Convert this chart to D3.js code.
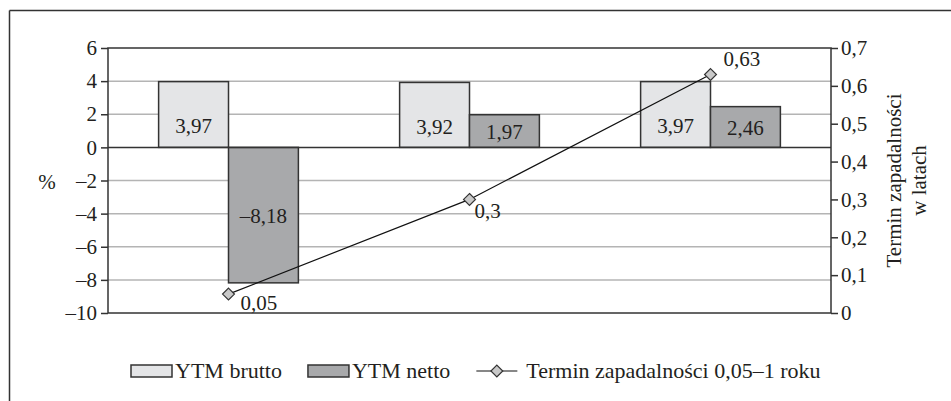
<!DOCTYPE html>
<html>
<head>
<meta charset="utf-8">
<script src="https://cdn.jsdelivr.net/npm/d3@7"></script>
<style>
  html, body { margin: 0; padding: 0; background: #fff; }
  svg, svg text { font-family: "Liberation Serif", "Times New Roman", Times, "DejaVu Serif", serif; }
</style>
</head>
<body>
<svg id="chart" width="951" height="401"></svg>
<script>
// Three bond groups (categories are not labelled on the axis)
const categories = ["a", "b", "c"];
const seriesNames = ["YTM brutto", "YTM netto"];
const ytmBrutto = [3.97, 3.92, 3.97];
const ytmNetto = [-8.18, 1.97, 2.46];
const maturity = [0.05, 0.3, 0.63];
const maturityName = "Termin zapadalności 0,05–1 roku";
const leftTicks = [-10, -8, -6, -4, -2, 0, 2, 4, 6];
const rightTicks = [0, 0.1, 0.2, 0.3, 0.4, 0.5, 0.6, 0.7];
const leftTitle = "%";
const rightTitle = ["Termin zapadalności", "w latach"];

const serif = "'Liberation Serif', 'Times New Roman', Times, 'DejaVu Serif', serif";
const pl = d3.formatLocale({ decimal: ",", thousands: " ", grouping: [3], currency: ["", " zł"], minus: "\u2013" });
const fmtVal = v => pl.format(",")(v);
const fs = 21;
const legendFs = 22;

const svg = d3.select("#chart").attr("font-family", serif);
const ink = "#231f20";
const plot = { left: 108, right: 831, top: 48, bottom: 313 };

// outer frame (top and left edges)
svg.append("line").attr("x1", 9.5).attr("x2", 951).attr("y1", 10.5).attr("y2", 10.5)
  .attr("stroke", "#333").attr("stroke-width", 1.5);
svg.append("line").attr("x1", 9.5).attr("x2", 9.5).attr("y1", 10.5).attr("y2", 401)
  .attr("stroke", "#333").attr("stroke-width", 1.5);

const x0 = d3.scaleBand().domain(categories).range([plot.left, plot.right]).padding(0);
const x1 = d3.scaleBand().domain(seriesNames)
  .range([x0.bandwidth() * 0.21, x0.bandwidth() * 0.79]).padding(0);
const yL = d3.scaleLinear().domain([-10, 6]).range([plot.bottom, plot.top]);
const yR = d3.scaleLinear().domain([0, 0.7]).range([plot.bottom, plot.top]);

// horizontal gridlines
svg.append("g").selectAll("line")
  .data(leftTicks.filter(t => t !== 0 && t !== -10 && t !== 6))
  .join("line")
  .attr("x1", plot.left).attr("x2", plot.right)
  .attr("y1", d => yL(d)).attr("y2", d => yL(d))
  .attr("stroke", "#b4b4b4").attr("stroke-width", 1.5);

// bars
const barData = [];
categories.forEach((c, i) => {
  barData.push({ cat: c, s: seriesNames[0], v: ytmBrutto[i] });
  barData.push({ cat: c, s: seriesNames[1], v: ytmNetto[i] });
});
const fills = { "YTM brutto": "#e4e5e7", "YTM netto": "#a8a9ab" };
svg.append("g").selectAll("rect").data(barData).join("rect")
  .attr("x", d => x0(d.cat) + x1(d.s))
  .attr("width", x1.bandwidth())
  .attr("y", d => yL(Math.max(0, d.v)))
  .attr("height", d => Math.abs(yL(d.v) - yL(0)))
  .attr("fill", d => fills[d.s])
  .attr("stroke", "#333").attr("stroke-width", 1.5);

// zero line and plot border
svg.append("line").attr("x1", plot.left).attr("x2", plot.right)
  .attr("y1", yL(0)).attr("y2", yL(0)).attr("stroke", "#333").attr("stroke-width", 1.5);
svg.append("rect").attr("x", plot.left).attr("y", plot.top)
  .attr("width", plot.right - plot.left).attr("height", plot.bottom - plot.top)
  .attr("fill", "none").attr("stroke", "#333").attr("stroke-width", 1.5);

// bar value labels
svg.append("g").selectAll("text").data(barData).join("text")
  .attr("x", d => x0(d.cat) + x1(d.s) + x1.bandwidth() / 2)
  .attr("y", d => yL(d.v / 2) + (d.s === "YTM brutto" ? 19 : 8))
  .attr("text-anchor", "middle")
  .attr("font-size", fs).attr("fill", ink)
  .text(d => fmtVal(d.v));

// left axis
const axL = svg.append("g").attr("transform", `translate(${plot.left},0)`)
  .call(d3.axisLeft(yL).tickValues(leftTicks).tickSize(7).tickPadding(4).tickFormat(pl.format("")));
axL.attr("font-family", serif);
axL.select(".domain").remove();
axL.selectAll(".tick line").attr("stroke", "#333").attr("stroke-width", 1.5);
axL.selectAll(".tick text").attr("font-size", fs).attr("fill", ink);

// right axis
const axR = svg.append("g").attr("transform", `translate(${plot.right},0)`)
  .call(d3.axisRight(yR).tickValues(rightTicks).tickSize(7).tickPadding(3).tickFormat(pl.format("")));
axR.attr("font-family", serif);
axR.select(".domain").remove();
axR.selectAll(".tick line").attr("stroke", "#333").attr("stroke-width", 1.5);
axR.selectAll(".tick text").attr("font-size", fs).attr("fill", ink);

// axis titles
svg.append("text").attr("x", 47).attr("y", 189).attr("text-anchor", "middle")
  .attr("font-size", fs).attr("fill", ink).text(leftTitle);
const yMid = (plot.top + plot.bottom) / 2;
rightTitle.forEach((t, i) => {
  svg.append("text")
    .attr("transform", `translate(${901 + i * 25},${yMid}) rotate(-90)`)
    .attr("text-anchor", "middle").attr("font-size", fs).attr("fill", ink).text(t);
});

// maturity line with diamond markers
const pts = categories.map((c, i) => ({ x: x0(c) + x0.bandwidth() / 2, y: yR(maturity[i]), v: maturity[i] }));
svg.append("path").datum(pts)
  .attr("d", d3.line().x(d => d.x).y(d => d.y))
  .attr("fill", "none").attr("stroke", "#111").attr("stroke-width", 1.2);
const diamond = d3.symbol().type(d3.symbolDiamond2).size(90);
svg.append("g").selectAll("path").data(pts).join("path")
  .attr("transform", d => `translate(${d.x},${d.y})`)
  .attr("d", diamond).attr("fill", "#c9c9c9").attr("stroke", "#333").attr("stroke-width", 1.2);

const ptOffsets = [[12, 16], [5, 19], [13, -9]];
svg.append("g").selectAll("text").data(pts).join("text")
  .attr("x", (d, i) => d.x + ptOffsets[i][0])
  .attr("y", (d, i) => d.y + ptOffsets[i][1])
  .attr("font-size", fs).attr("fill", ink)
  .text(d => fmtVal(d.v));

// legend
const lg = svg.append("g").attr("transform", "translate(131,371)");
let cx = 0;
seriesNames.forEach(name => {
  lg.append("rect").attr("x", cx).attr("y", -6).attr("width", 41).attr("height", 12)
    .attr("fill", fills[name]).attr("stroke", "#333").attr("stroke-width", 1.5);
  const t = lg.append("text").attr("x", cx + 44).attr("y", 7)
    .attr("font-size", legendFs).attr("fill", ink).text(name);
  cx += 44 + t.node().getComputedTextLength() + 26;
});
lg.append("line").attr("x1", cx).attr("x2", cx + 41).attr("y1", 0).attr("y2", 0)
  .attr("stroke", "#111").attr("stroke-width", 1.2);
lg.append("path").attr("transform", `translate(${cx + 20.5},0)`)
  .attr("d", diamond).attr("fill", "#c9c9c9").attr("stroke", "#333").attr("stroke-width", 1.2);
lg.append("text").attr("x", cx + 50).attr("y", 7)
  .attr("font-size", legendFs).attr("fill", ink).text(maturityName);
</script>
</body>
</html>
